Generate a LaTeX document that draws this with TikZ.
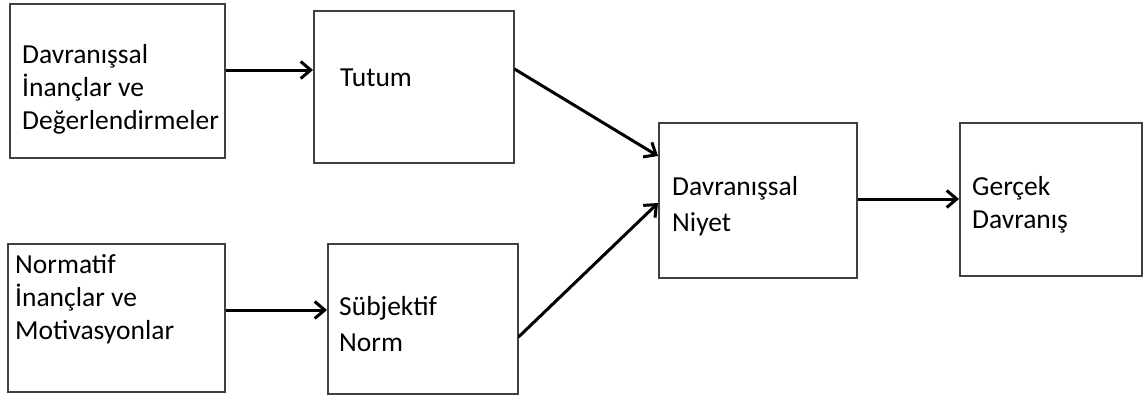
\documentclass[tikz,border=0pt]{standalone}
\usepackage{fontspec}
\setmainfont{Carlito}
\usetikzlibrary{arrows.meta,shadows}
\newcommand{\lines}[1]{\begin{tabular}[t]{@{}l@{}}#1\end{tabular}}
\begin{document}
\begin{tikzpicture}[x=1pt,y=-1pt,
  box/.style={draw=black!75, line width=1.5pt, fill=white, anchor=north west,
    inner sep=0pt,
    drop shadow={shadow xshift=1.2pt, shadow yshift=-1.2pt, opacity=0.35, fill=black!60}},
  lbl/.style={anchor=base west, inner sep=0pt,
    font=\fontsize{27.5}{33}\selectfont},
  lblwide/.style={lbl, font=\fontsize{27.5}{36}\selectfont},
  arr/.style={line width=3pt,
    -{Straight Barb[length=10pt,width=17pt,line width=3pt]}}]

\useasboundingbox (0,0) rectangle (1146,400);

% boxes
\node[box, minimum width=215pt, minimum height=154pt] (beliefs) at (9,3) {};
\node[box, minimum width=200pt, minimum height=152pt] (attitude) at (313,10) {};
\node[box, minimum width=198pt, minimum height=155pt] (intention) at (658,122) {};
\node[box, minimum width=182pt, minimum height=153pt] (behaviour) at (959,122) {};
\node[box, minimum width=217pt, minimum height=148pt] (normative) at (7,243) {};
\node[box, minimum width=190pt, minimum height=150pt] (subjective) at (327,243) {};

% labels
\node[lbl] (tbeliefs) at (22,63) {\lines{Davranışsal\\İnançlar ve\\Değerlendirmeler}};
\node[lbl] (tattitude) at (340,86) {Tutum};
\node[lblwide] (tintention) at (672,195) {\lines{Davranışsal\\Niyet}};
\node[lbl] (tbehaviour) at (972,195) {\lines{Gerçek\\Davranış}};
\node[lbl] (tnormative) at (15,273) {\lines{Normatif\\İnançlar ve\\Motivasyonlar}};
\node[lblwide] (tsubjective) at (339,315) {\lines{Sübjektif\\Norm}};

% connectors
\draw[arr] (beliefs.east |- 0,70) -- (attitude.west |- 0,70);
\draw[arr] (normative.east |- 0,310) -- (subjective.west |- 0,310);
\draw[arr] (attitude.east |- 0,69) -- (intention.west |- 0,156);
\draw[arr] (subjective.east |- 0,337) -- (intention.west |- 0,203);
\draw[arr] (intention.east |- 0,199) -- (behaviour.west |- 0,199);
\end{tikzpicture}
\end{document}
